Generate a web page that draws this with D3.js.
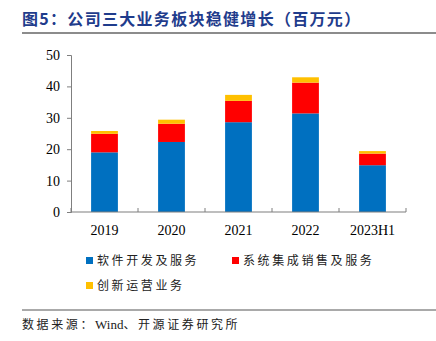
<!DOCTYPE html>
<html>
<head>
<meta charset="utf-8">
<script src="https://cdn.jsdelivr.net/npm/d3@7"></script>
<style>
  body { margin: 0; background: #fff; }
  svg { display: block; }
</style>
</head>
<body>
<svg id="chart" width="436" height="341"></svg>
<script>
// 年度 / 业务板块营收（百万元）
var years = ['2019', '2020', '2021', '2022', '2023H1'];
var software = [19.0, 22.3, 28.6, 31.4, 14.9];
var integration = [5.9, 5.8, 6.8, 9.8, 3.7];
var operation = [0.9, 1.3, 1.9, 1.7, 0.8];
var seriesNames = ['软件开发及服务', '系统集成销售及服务', '创新运营业务'];
var colors = ['#0070C0', '#FF0000', '#FFC000'];
var yTicks = [0, 10, 20, 30, 40, 50];

var svg = d3.select('#chart');
var cjk = '"Noto Sans CJK SC", sans-serif';
var serif = '"Liberation Serif", "Times New Roman", serif';

// 标题
svg.append('text')
   .attr('x', 22)
   .attr('y', 25)
   .attr('fill', '#1F3C8C')
   .style('font-family', cjk)
   .style('font-weight', 'bold')
   .style('font-size', '16px')
   .style('letter-spacing', '1.3px')
   .text('图5：公司三大业务板块稳健增长（百万元）');

svg.append('line')
   .attr('x1', 22).attr('x2', 436)
   .attr('y1', 33).attr('y2', 33)
   .attr('stroke', '#8c8c8c')
   .attr('stroke-width', 2);

var xScale = d3.scaleBand()
               .domain(years)
               .range([71, 406])
               .paddingInner(0.6)
               .paddingOuter(0.3);

var yScale = d3.scaleLinear()
               .domain([0, 50])
               .range([212, 55]);

var table = years.map(function(y, i) {
    return { year: y, s0: software[i], s1: integration[i], s2: operation[i] };
});
var stack = d3.stack().keys(['s0', 's1', 's2'])(table);

svg.append('g')
   .selectAll('g')
   .data(stack)
   .enter()
   .append('g')
   .attr('fill', function(d, i) { return colors[i]; })
   .selectAll('rect')
   .data(function(d) { return d; })
   .enter()
   .append('rect')
   .attr('x', function(d) { return xScale(d.data.year); })
   .attr('y', function(d) { return yScale(d[1]); })
   .attr('width', xScale.bandwidth())
   .attr('height', function(d) { return yScale(d[0]) - yScale(d[1]); });

// y 轴
var yAxis = d3.axisLeft(yScale).tickValues(yTicks).tickSize(4).tickPadding(7);
var gy = svg.append('g')
   .attr('transform', 'translate(71,0)')
   .call(yAxis);
gy.select('.domain').attr('stroke', '#7f7f7f');
gy.selectAll('.tick line').attr('stroke', '#7f7f7f');
gy.selectAll('text')
  .style('font-family', serif)
  .style('font-size', '14px')
  .attr('fill', '#000');

// x 轴，刻度线位于类别之间
var gx = svg.append('g').attr('transform', 'translate(0,212)');
gx.append('line')
  .attr('x1', 71).attr('x2', 406)
  .attr('stroke', '#7f7f7f').attr('stroke-width', 1.2);
var step = xScale.step();
var bounds = d3.range(years.length + 1).map(function(i) { return 71 + i * step; });
gx.selectAll('.tk')
  .data(bounds)
  .enter()
  .append('line')
  .attr('x1', function(d) { return d; })
  .attr('x2', function(d) { return d; })
  .attr('y1', 0).attr('y2', -4)
  .attr('stroke', '#7f7f7f');
gx.selectAll('.lbl')
  .data(years)
  .enter()
  .append('text')
  .attr('x', function(d) { return xScale(d) + xScale.bandwidth() / 2; })
  .attr('y', 23)
  .attr('text-anchor', 'middle')
  .style('font-family', serif)
  .style('font-size', '14px')
  .text(function(d) { return d; });

// 图例
var legendPos = [[86, 261], [232, 261], [86, 286]];
var legend = svg.selectAll('.legend')
   .data(seriesNames)
   .enter()
   .append('g')
   .attr('transform', function(d, i) { return 'translate(' + legendPos[i][0] + ',' + legendPos[i][1] + ')'; });
legend.append('rect')
   .attr('x', 0).attr('y', -4)
   .attr('width', 7).attr('height', 7)
   .attr('fill', function(d, i) { return colors[i]; });
legend.append('text')
   .attr('x', 11)
   .attr('y', 4)
   .style('font-family', cjk)
   .style('font-size', '12px')
   .style('letter-spacing', '2.6px')
   .attr('fill', '#222')
   .text(function(d) { return d; });

// 资料来源
svg.append('line')
   .attr('x1', 22).attr('x2', 436)
   .attr('y1', 310).attr('y2', 310)
   .attr('stroke', '#555')
   .attr('stroke-width', 1);
var src = svg.append('text')
   .attr('x', 22)
   .attr('y', 329)
   .style('font-family', cjk)
   .style('font-size', '12px')
   .style('letter-spacing', '2.6px')
   .attr('fill', '#222');
src.append('tspan').text('数据来源：');
src.append('tspan').style('font-family', serif).style('font-size', '13px').style('letter-spacing', '0px').text('Wind');
src.append('tspan').text('、开源证券研究所');
</script>
</body>
</html>
